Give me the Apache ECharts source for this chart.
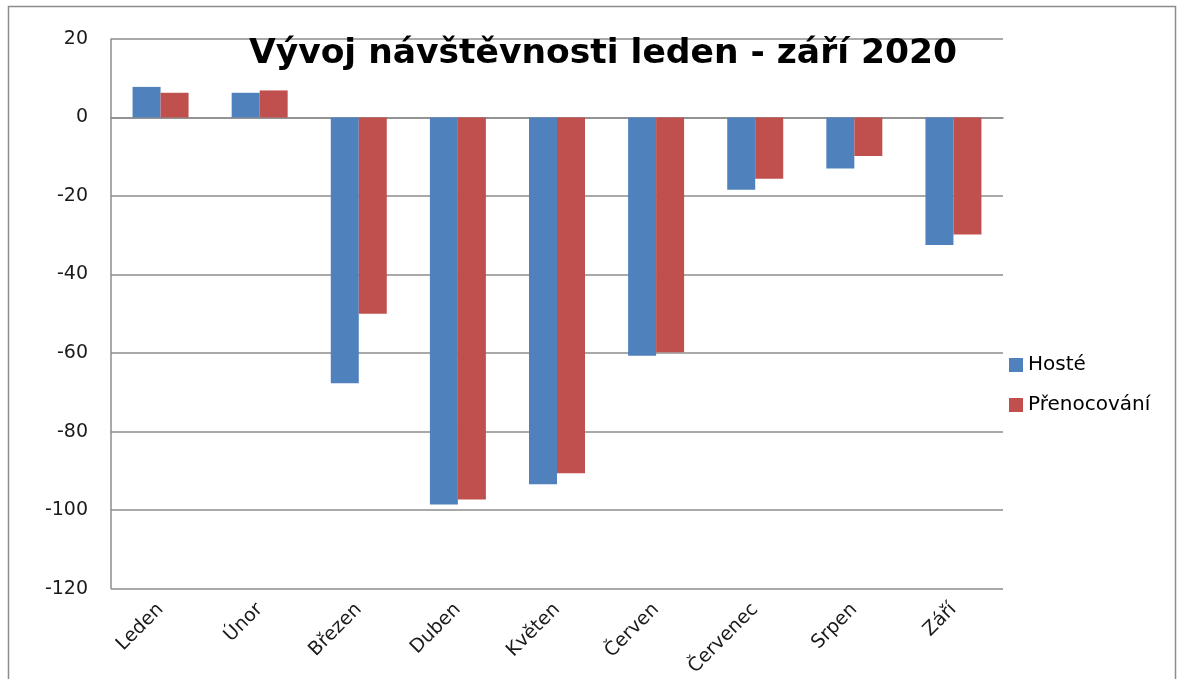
<!DOCTYPE html>
<html>
<head>
<meta charset="utf-8">
<script src="https://cdn.jsdelivr.net/npm/echarts@6/dist/echarts.min.js"></script>
<style>
  html, body { margin: 0; padding: 0; background: #fff; }
  #chart { width: 1184px; height: 679px; }
</style>
</head>
<body>
<div id="chart"></div>
<script>
// měsíce a hodnoty (změna v %)
const months = ['Leden', 'Únor', 'Březen', 'Duben', 'Květen', 'Červen', 'Červenec', 'Srpen', 'Září'];
const hoste = [7.8, 6.3, -67.7, -98.6, -93.4, -60.7, -18.4, -13.0, -32.5];
const prenocovani = [6.3, 6.9, -50.0, -97.3, -90.6, -59.8, -15.6, -9.8, -29.8];

const font = '"DejaVu Sans", "Noto Sans", sans-serif';

const chart = echarts.init(document.getElementById('chart'));
chart.setOption({
  animation: false,
  textStyle: { fontFamily: font },
  graphic: [
    {
      type: 'rect',
      shape: { x: 8.5, y: 6.5, width: 1167, height: 690 },
      style: { fill: 'none', stroke: '#8c8c8c', lineWidth: 1.5 },
      z: -1
    }
  ],
  title: {
    text: 'Vývoj návštěvnosti leden - září 2020',
    left: 598,
    top: 32,
    textAlign: 'center',
    textStyle: { fontFamily: font, fontSize: 34.5, fontWeight: 'bold', color: '#000' }
  },
  legend: {
    orient: 'vertical',
    left: 1004,
    top: 350,
    itemWidth: 14,
    itemHeight: 14,
    itemGap: 20,
    icon: 'rect',
    textStyle: { fontFamily: font, fontSize: 20, lineHeight: 20, color: '#000' },
    data: ['Hosté', 'Přenocování']
  },
  grid: { left: 111, top: 39, right: 181, bottom: 88, containLabel: false },
  xAxis: {
    type: 'category',
    data: months,
    axisLine: { lineStyle: { color: '#8c8c8c', width: 1.5 } },
    axisTick: { show: false },
    axisLabel: {
      rotate: 45,
      interval: 0,
      fontFamily: font,
      fontSize: 19,
      color: '#1a1a1a',
      margin: 18
    }
  },
  yAxis: {
    type: 'value',
    min: -120,
    max: 20,
    interval: 20,
    axisLine: { show: true, lineStyle: { color: '#8c8c8c', width: 1.5 } },
    axisTick: { show: false },
    splitLine: { lineStyle: { color: '#8c8c8c', width: 1.5 } },
    axisLabel: { fontFamily: font, fontSize: 19, color: '#1a1a1a', margin: 23 }
  },
  series: [
    {
      name: 'Hosté',
      type: 'bar',
      data: hoste,
      barWidth: 28,
      barGap: '0%',
      itemStyle: { color: '#4f81bd' }
    },
    {
      name: 'Přenocování',
      type: 'bar',
      data: prenocovani,
      barWidth: 28,
      itemStyle: { color: '#c0504d' }
    }
  ]
});
</script>
</body>
</html>
